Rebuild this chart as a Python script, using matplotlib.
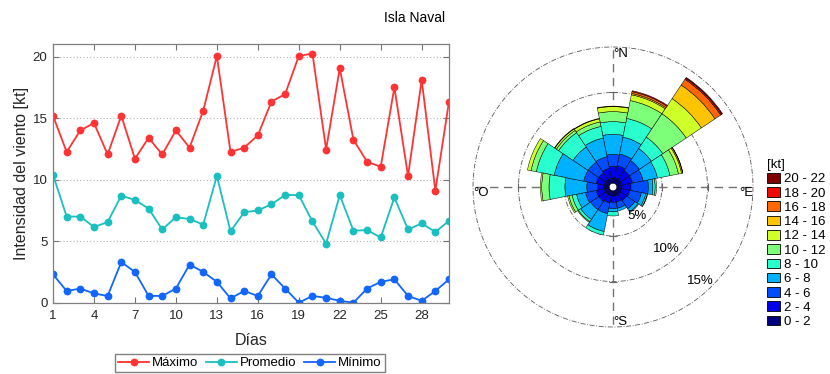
import numpy as np
import matplotlib
matplotlib.use('Agg')
import matplotlib.pyplot as plt
from matplotlib.patches import Patch

plt.rcParams['font.family'] = ['Liberation Sans', 'DejaVu Sans']

# ---------------- data: daily wind intensity ----------------
dias = list(range(1, 31))
maximo = [15.2, 12.25, 14.0, 14.6, 12.05, 15.2, 11.7, 13.4, 12.05, 14.0,
          12.6, 15.6, 20.05, 12.25, 12.6, 13.6, 16.35, 16.95, 20.05, 20.25,
          12.45, 19.05, 13.25, 11.45, 11.05, 17.5, 10.3, 18.1, 9.1, 16.35]
promedio = [10.4, 7.0, 7.0, 6.15, 6.55, 8.7, 8.35, 7.65, 5.95, 6.95,
            6.8, 6.35, 10.3, 5.8, 7.35, 7.5, 8.0, 8.75, 8.75, 6.6,
            4.8, 8.75, 5.85, 5.9, 5.3, 8.55, 5.95, 6.45, 5.75, 6.65]
minimo = [2.3, 0.95, 1.15, 0.75, 0.55, 3.3, 2.5, 0.55, 0.55, 1.15,
          3.1, 2.5, 1.7, 0.35, 0.95, 0.55, 2.3, 1.15, 0.0, 0.55,
          0.4, 0.15, 0.0, 1.15, 1.7, 1.9, 0.55, 0.15, 0.95, 1.9]
xticks = [1, 4, 7, 10, 13, 16, 19, 22, 25, 28]
yticks = [0, 5, 10, 15, 20]

# ---------------- data: wind rose (% frequency per direction & speed bin) ----------------
direcciones = ['N', 'NNE', 'NE', 'ENE', 'E', 'ESE', 'SE', 'SSE',
               'S', 'SSW', 'SW', 'WSW', 'W', 'WNW', 'NW', 'NNW']
rangos = ['0 - 2', '2 - 4', '4 - 6', '6 - 8', '8 - 10', '10 - 12',
          '12 - 14', '14 - 16', '16 - 18', '18 - 20', '20 - 22']
f00_02 = [0.6, 0.6, 0.6, 0.6, 0.6, 0.6, 0.6, 0.6, 0.6, 0.6, 0.6, 0.6, 0.6, 0.6, 0.6, 0.6]
f02_04 = [1.3, 1.4, 1.2, 1.2, 1.0, 0.9, 0.8, 0.7, 0.7, 0.8, 0.9, 0.9, 0.7, 0.9, 0.9, 1.1]
f04_06 = [1.3, 1.3, 1.3, 1.2, 1.9, 1.3, 1.1, 0.7, 0.7, 1.2, 1.1, 1.2, 1.2, 1.4, 1.4, 1.3]
f06_08 = [2.2, 1.9, 1.6, 1.6, 0.5, 0.5, 0.4, 0.3, 0.35, 2.0, 1.3, 1.0, 2.4, 3.3, 2.0, 2.1]
f08_10 = [1.4, 2.1, 1.5, 1.4, 0.25, 0.15, 0.1, 0.0, 0.45, 0.4, 0.3, 0.5, 1.75, 2.0, 1.9, 1.3]
f10_12 = [1.1, 2.0, 3.1, 0.95, 0.15, 0.05, 0.0, 0.0, 0.0, 0.0, 0.1, 0.35, 0.8, 0.6, 0.3, 0.5]
f12_14 = [0.55, 0.65, 2.0, 0.35, 0.0, 0.0, 0.0, 0.0, 0.0, 0.0, 0.0, 0.15, 0.15, 0.4, 0.2, 0.35]
f14_16 = [0.05, 0.15, 1.8, 0.12, 0.0, 0.0, 0.0, 0.0, 0.0, 0.0, 0.0, 0.0, 0.0, 0.0, 0.05, 0.05]
f16_18 = [0.0, 0.2, 0.75, 0.03, 0.0, 0.0, 0.0, 0.0, 0.0, 0.0, 0.0, 0.0, 0.0, 0.0, 0.0, 0.0]
f18_20 = [0.0, 0.1, 0.15, 0.0, 0.0, 0.0, 0.0, 0.0, 0.0, 0.0, 0.0, 0.0, 0.0, 0.0, 0.0, 0.0]
f20_22 = [0.0, 0.0, 0.1, 0.0, 0.0, 0.0, 0.0, 0.0, 0.0, 0.0, 0.0, 0.0, 0.0, 0.0, 0.0, 0.0]
frecuencias = [f00_02, f02_04, f04_06, f06_08, f08_10, f10_12,
               f12_14, f14_16, f16_18, f18_20, f20_22]
circulos = [5, 10, 15]

# ---------------- figure ----------------
W, H = 830, 374
fig = plt.figure(figsize=(W / 100, H / 100), dpi=100)
fig.text(0.4994, 1 - 18 / H, 'Isla Naval', ha='center', va='center', fontsize=10)

# line chart
ax = fig.add_axes([53 / W, (H - 302.7) / H, 396 / W, 258.4 / H])
ax.plot(dias, maximo, '-o', color='#ff3333', lw=1.3, ms=4.6, label='Máximo')
ax.plot(dias, promedio, '-o', color='#1abfbf', lw=1.3, ms=4.6, label='Promedio')
ax.plot(dias, minimo, '-o', color='#1166ff', lw=1.3, ms=4.6, label='Mínimo')
ax.set_xlim(1, 30)
ax.set_ylim(0, 21)
ax.set_xticks(xticks)
ax.set_yticks(yticks)
ax.tick_params(direction='in', top=True, right=True, length=4, width=0.8,
               color='0.45', labelsize=9.5, labelcolor='#262626')
ax.tick_params(axis='y', pad=4)
ax.tick_params(axis='x', pad=5)
ax.yaxis.grid(True, ls=(0, (1, 2)), color='0.7', lw=0.8)
for s in ax.spines.values():
    s.set_color('0.5')
    s.set_linewidth(0.9)
ax.set_xlabel('Días', fontsize=11.5, color='#262626')
ax.set_ylabel('Intensidad del viento [kt]', fontsize=11.5, color='#262626')
ax.xaxis.set_label_coords(0.5, -(333 - 302.7) / 258.4)
ax.yaxis.set_label_coords(-(53 - 29) / 396, 0.5)
ax.legend(loc='center', bbox_to_anchor=(250 / W, 1 - 363 / H),
          bbox_transform=fig.transFigure, ncol=3, fontsize=9.5,
          frameon=True, fancybox=False, edgecolor='0.5', framealpha=1,
          handlelength=2.3, handletextpad=0.25, columnspacing=0.6,
          borderpad=0.25, borderaxespad=0)

# wind rose
R = 140
cx, cy = 613, 187
ax2 = fig.add_axes([(cx - R) / W, (H - cy - R) / H, 2 * R / W, 2 * R / H],
                   projection='polar')
ax2.set_theta_zero_location('N')
ax2.set_theta_direction(-1)
ax2.set_rorigin(-0.385)
ax2.set_ylim(0, 15)
ax2.axis('off')

theta = np.deg2rad(np.arange(len(direcciones)) * 22.5)
width = 2 * np.pi / len(direcciones)
colores = plt.cm.jet(np.linspace(0, 1, len(rangos)))
base = np.zeros(len(direcciones))
for i, fr in enumerate(frecuencias):
    fr = np.array(fr)
    m = fr > 0
    ax2.bar(theta[m], fr[m], width=width, bottom=base[m], color=colores[i],
            edgecolor='black', linewidth=0.35, zorder=3)
    base = base + fr

tc = np.linspace(0, 2 * np.pi, 500)
for c in circulos:
    ax2.plot(tc, np.full_like(tc, c), color='0.35', lw=0.6,
             ls=(0, (6, 2, 1, 2)), zorder=1, clip_on=False)
for ang in [0, 90, 180, 270]:
    ax2.plot([np.deg2rad(ang)] * 2, [0, 15], color='0.45', lw=1.0,
             ls=(0, (6, 4)), zorder=1, clip_on=False)
for c in circulos[:2]:
    ax2.plot([0, np.pi], [c, c], ls='none', marker='_', ms=6, mew=0.8,
             color='0.4', zorder=1, clip_on=False)
    ax2.plot([np.pi / 2, 3 * np.pi / 2], [c, c], ls='none', marker='|', ms=6,
             mew=0.8, color='0.4', zorder=1, clip_on=False)

ax2.text(0, 14.2, '°N', ha='left', va='center', fontsize=9.5)
ax2.text(np.pi, 14.4, '°S', ha='left', va='center', fontsize=9.5)
ax2.text(3 * np.pi / 2, 15, '°O', ha='left', va='top', fontsize=9.5)
ax2.text(np.pi / 2, 15, '°E', ha='right', va='top', fontsize=9.5)
ax2.text(np.deg2rad(140), 3.8, '5%', ha='center', va='center', fontsize=9.5, zorder=5)
ax2.text(np.deg2rad(139), 8.6, '10%', ha='center', va='center', fontsize=9.5, zorder=5)
ax2.text(np.deg2rad(137), 13.7, '15%', ha='center', va='center', fontsize=9.5, zorder=5)

handles = [Patch(facecolor=colores[i], edgecolor='black', linewidth=0.6, label=rangos[i])
           for i in range(len(rangos) - 1, -1, -1)]
fig.legend(handles=handles, title='[kt]', loc='upper left',
           bbox_to_anchor=(767 / W, 1 - 159 / H), frameon=False, fontsize=9.5,
           title_fontsize=9.5, handlelength=1.0, handleheight=0.75,
           handletextpad=0.3, labelspacing=0.14, alignment='left',
           borderpad=0, borderaxespad=0)

fig.savefig('out.png', dpi=100)
